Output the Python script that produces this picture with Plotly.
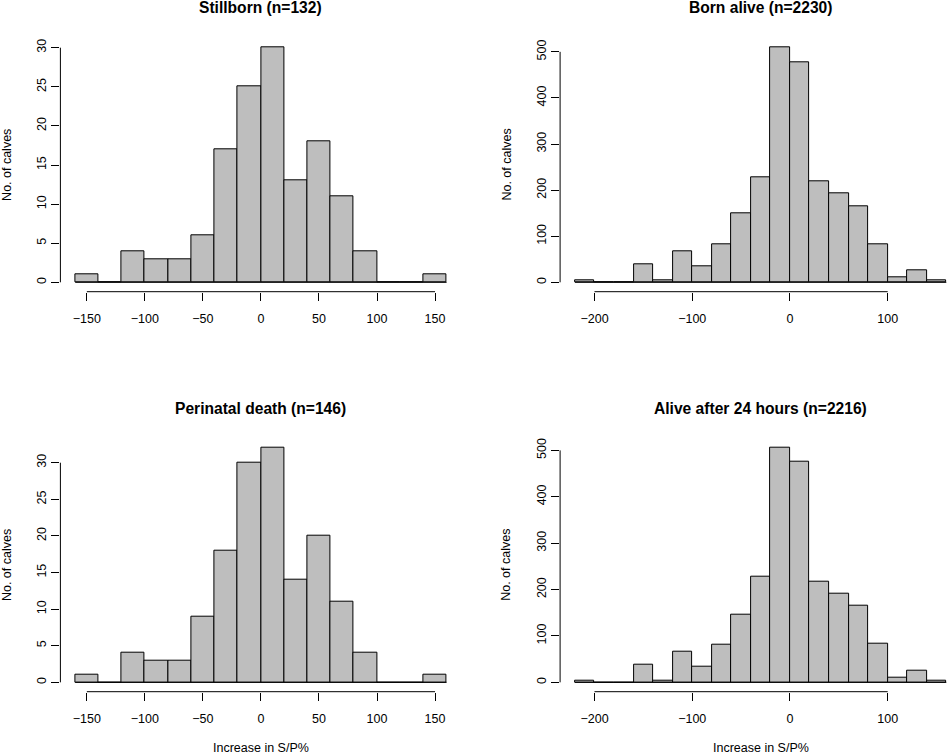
import plotly.graph_objects as go

# bin edges (width 20)
edges_dead = list(range(-160, 161, 20))
edges_alive = list(range(-220, 161, 20))

# counts per bin
stillborn = [1, 0, 4, 3, 3, 6, 17, 25, 30, 13, 18, 11, 4, 0, 0, 1]
perinatal = [1, 0, 4, 3, 3, 9, 18, 30, 32, 14, 20, 11, 4, 0, 0, 1]
born_alive = [4, 0, 0, 39, 4, 67, 35, 82, 150, 228, 509, 477, 219, 193, 165, 82, 11, 26, 4]
alive_24h = [4, 0, 0, 39, 4, 67, 34, 82, 146, 228, 505, 475, 217, 191, 165, 84, 11, 26, 4]

titles = ["Stillborn (n=132)", "Born alive (n=2230)",
          "Perinatal death (n=146)", "Alive after 24 hours (n=2216)"]

xticks_dead = [-150, -100, -50, 0, 50, 100, 150]
xticks_alive = [-200, -100, 0, 100]
yticks_dead = [0, 5, 10, 15, 20, 25, 30]
yticks_alive = [0, 100, 200, 300, 400, 500]

W, H = 948, 755
FONT = "Liberation Sans"

# plot regions in pixels (left, top, right, bottom); right panels are cut by the window edge
panel_w = 401.1
regions = [
    (60.4, 38.3, 60.4 + panel_w, 291.7),
    (560.1, 38.3, 560.1 + panel_w, 291.7),
    (60.4, 438.7, 60.4 + panel_w, 691.7),
    (560.1, 438.7, 560.1 + panel_w, 691.7),
]

panels = [
    (edges_dead, stillborn, xticks_dead, yticks_dead),
    (edges_alive, born_alive, xticks_alive, yticks_alive),
    (edges_dead, perinatal, xticks_dead, yticks_dead),
    (edges_alive, alive_24h, xticks_alive, yticks_alive),
]

fig = go.Figure()
shapes = []
annotations = []

for i, ((edges, counts, xt, yt), (l, t, r, b)) in enumerate(zip(panels, regions)):
    k = "" if i == 0 else str(i + 1)
    xa, ya = "x" + k, "y" + k
    centers = [(a + c) / 2 for a, c in zip(edges[:-1], edges[1:])]
    width = edges[1] - edges[0]

    # R style 4% extension of the ranges
    span = edges[-1] - edges[0]
    x0 = edges[0] - 0.04 * span
    x1 = edges[-1] + 0.04 * span
    ymax = max(counts)
    y0, y1 = -0.04 * ymax, ymax * 1.04

    # clip the plot region to the window
    r_vis = min(r, W)
    x1_vis = x0 + (x1 - x0) * (r_vis - l) / (r - l)

    # baseline across empty bins
    fig.add_trace(go.Scatter(x=[edges[0], edges[-1]], y=[0, 0], mode="lines",
                             line=dict(color="black", width=1), hoverinfo="skip",
                             xaxis=xa, yaxis=ya, showlegend=False))
    fig.add_trace(go.Bar(x=centers, y=counts, width=width,
                         marker=dict(color="#BEBEBE", line=dict(color="black", width=1)),
                         xaxis=xa, yaxis=ya, showlegend=False))

    axis_font = dict(family=FONT, size=12.5, color="black")
    fig.update_layout(**{
        "xaxis" + k: dict(domain=[l / W, r_vis / W], range=[x0, x1_vis], anchor=ya,
                          tickvals=xt, ticks="outside", ticklen=8, tickcolor="black",
                          showline=False, showgrid=False, zeroline=False, automargin=False,
                          tickfont=axis_font, ticklabelstandoff=7),
        "yaxis" + k: dict(domain=[1 - b / H, 1 - t / H], range=[y0, y1], anchor=xa,
                          tickvals=yt, ticks="outside", ticklen=8, tickcolor="black",
                          showline=False, showgrid=False, zeroline=False, automargin=False,
                          tickangle=-90, tickfont=axis_font, ticklabelstandoff=0),
    })

    # R axis lines run from first to last tick only
    shapes.append(dict(type="line", xref=xa, yref=ya + " domain", x0=xt[0], x1=xt[-1],
                       y0=0, y1=0, line=dict(color="black", width=1)))
    shapes.append(dict(type="line", xref=xa + " domain", yref=ya, x0=0, x1=0,
                       y0=yt[0], y1=yt[-1], line=dict(color="black", width=1)))

    cx = (l + r) / 2
    annotations.append(dict(text="<b>" + titles[i] + "</b>", x=cx / W, y=1 - (t - 30.5) / H,
                            xref="paper", yref="paper", showarrow=False,
                            xanchor="center", yanchor="middle",
                            font=dict(family=FONT, size=15.6, color="black")))
    annotations.append(dict(text="No. of calves", x=(l - 53.5) / W, y=1 - ((t + b) / 2) / H,
                            xref="paper", yref="paper", showarrow=False, textangle=-90,
                            xanchor="center", yanchor="middle",
                            font=dict(family=FONT, size=12.5, color="black")))
    if i >= 2:
        annotations.append(dict(text="Increase in S/P%", x=cx / W, y=1 - (b + 56.6) / H,
                                xref="paper", yref="paper", showarrow=False,
                                xanchor="center", yanchor="middle",
                                font=dict(family=FONT, size=12.5, color="black")))

fig.update_layout(width=W, height=H, autosize=False,
                  margin=dict(l=0, r=0, t=0, b=0),
                  paper_bgcolor="white", plot_bgcolor="white",
                  bargap=0, shapes=shapes, annotations=annotations,
                  font=dict(family=FONT, color="black"))

# the page body has a default 8px margin; drop it so the figure fills the window
fig.write_html("out.html", config={"displayModeBar": False},
               post_script="document.body.style.margin='0px';")
